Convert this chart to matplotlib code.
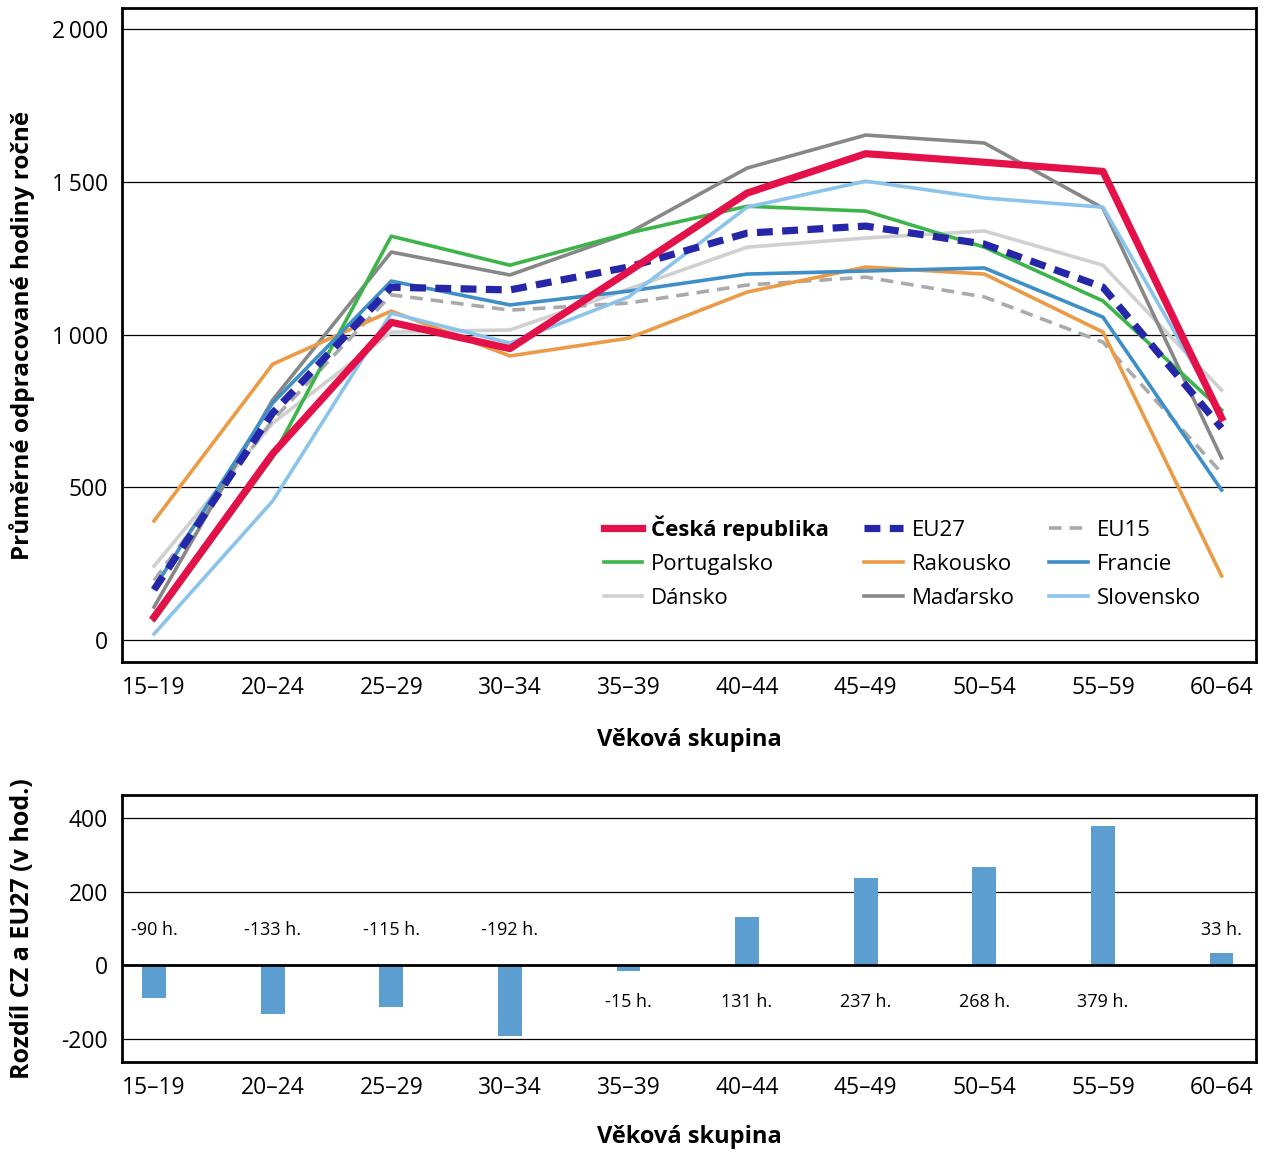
import matplotlib.pyplot as plt
import numpy as np

plt.rcParams['font.family'] = ['Open Sans', 'DejaVu Sans']
plt.rcParams['axes.unicode_minus'] = False

# věkové skupiny
skupiny = ["15–19", "20–24", "25–29", "30–34", "35–39",
           "40–44", "45–49", "50–54", "55–59", "60–64"]

# průměrné odpracované hodiny ročně
eu27 = [165, 743, 1155, 1146, 1221, 1332, 1355, 1296, 1155, 694]
rozdil = [-90, -133, -115, -192, -15, 131, 237, 268, 379, 33]
cesko = [e + r for e, r in zip(eu27, rozdil)]
eu15 = [195, 720, 1130, 1080, 1103, 1162, 1188, 1123, 975, 547]
portugalsko = [65, 599, 1322, 1227, 1332, 1420, 1404, 1286, 1110, 753]
rakousko = [390, 903, 1077, 930, 988, 1139, 1221, 1198, 1008, 210]
francie = [170, 776, 1175, 1097, 1142, 1198, 1208, 1218, 1057, 491]
dansko = [242, 710, 1008, 1015, 1149, 1286, 1316, 1339, 1227, 818]
madarsko = [108, 786, 1270, 1195, 1332, 1545, 1653, 1627, 1414, 596]
slovensko = [20, 455, 1070, 972, 1123, 1417, 1502, 1447, 1417, 740]

# strana popisku sloupce: 1 = nad nulou, -1 = pod nulou
strana_popisku = [1, 1, 1, 1, -1, -1, -1, -1, -1, 1]

x = np.arange(len(skupiny))

fig = plt.figure(figsize=(12.67, 11.53), dpi=100)
ax = fig.add_axes([0.0963, 0.4258, 0.895, 0.5673])
ax2 = fig.add_axes([0.0963, 0.0789, 0.895, 0.2316])

h_cz, = ax.plot(x, cesko, color="#E3104A", lw=5.2, zorder=10)
h_eu27, = ax.plot(x, eu27, color="#2626A8", lw=5.2, dashes=(2.2, 1.3), zorder=9)
h_eu15, = ax.plot(x, eu15, color="#AAAAAA", lw=2.6, dashes=(3.5, 2.2), zorder=5)
h_pt, = ax.plot(x, portugalsko, color="#3CB44A", lw=2.6, zorder=6)
h_at, = ax.plot(x, rakousko, color="#EB9A45", lw=2.6, zorder=6)
h_fr, = ax.plot(x, francie, color="#3E8EC8", lw=2.6, zorder=6)
h_dk, = ax.plot(x, dansko, color="#D0D0D0", lw=2.6, zorder=4)
h_hu, = ax.plot(x, madarsko, color="#878787", lw=2.6, zorder=5)
h_sk, = ax.plot(x, slovensko, color="#8AC4EC", lw=2.6, zorder=6)

ax.set_xlim(-0.27, 9.29)
ax.set_ylim(-72, 2069)
ax.set_yticks([0, 500, 1000, 1500, 2000])
ax.set_yticklabels(["0", "500", "1\u2009000", "1\u2009500", "2\u2009000"])
ax.set_xticks(x)
ax.set_xticklabels(skupiny)
ax.grid(axis="y", color="black", lw=0.9)
ax.set_axisbelow(True)
ax.tick_params(length=0, labelsize=16.5, pad=10)
for s in ax.spines.values():
    s.set_linewidth(2)
ax.set_xlabel("Věková skupina", fontsize=17, fontweight="bold", labelpad=20)
ax.set_ylabel("Průměrné odpracované hodiny ročně", fontsize=17.5, fontweight="bold")
ax.yaxis.set_label_coords(-0.077, 0.5)

# legenda se plní po sloupcích, proto pořadí po sloupcích
leg = ax.legend([h_cz, h_pt, h_dk, h_eu27, h_at, h_hu, h_eu15, h_fr, h_sk],
                ["Česká republika", "Portugalsko", "Dánsko", "EU27", "Rakousko",
                 "Maďarsko", "EU15", "Francie", "Slovensko"],
                ncol=3, loc="upper left", bbox_to_anchor=(0.407, 0.255),
                frameon=False, fontsize=16, handlelength=1.75,
                columnspacing=1.55, labelspacing=0.58, handletextpad=0.4)
leg.get_texts()[0].set_fontweight("bold")

# rozdíl ČR a EU27
ax2.bar(x, rozdil, width=0.2, color="#5B9ECF", zorder=3)
ax2.axhline(0, color="black", lw=2, zorder=4)
for xi, v, st in zip(x, rozdil, strana_popisku):
    ax2.text(xi, 95 if st > 0 else -100, f"{v} h.", ha="center", va="center",
             fontsize=13)
ax2.set_xlim(-0.27, 9.29)
ax2.set_ylim(-264, 463)
ax2.set_yticks([-200, 0, 200, 400])
ax2.set_xticks(x)
ax2.set_xticklabels(skupiny)
ax2.grid(axis="y", color="black", lw=0.9)
ax2.set_axisbelow(True)
ax2.tick_params(length=0, labelsize=16.5, pad=10)
for s in ax2.spines.values():
    s.set_linewidth(2)
ax2.set_xlabel("Věková skupina", fontsize=17, fontweight="bold", labelpad=18)
ax2.set_ylabel("Rozdíl CZ a EU27 (v hod.)", fontsize=18, fontweight="bold")
ax2.yaxis.set_label_coords(-0.077, 0.5)

fig.savefig("out.png", dpi=100)
